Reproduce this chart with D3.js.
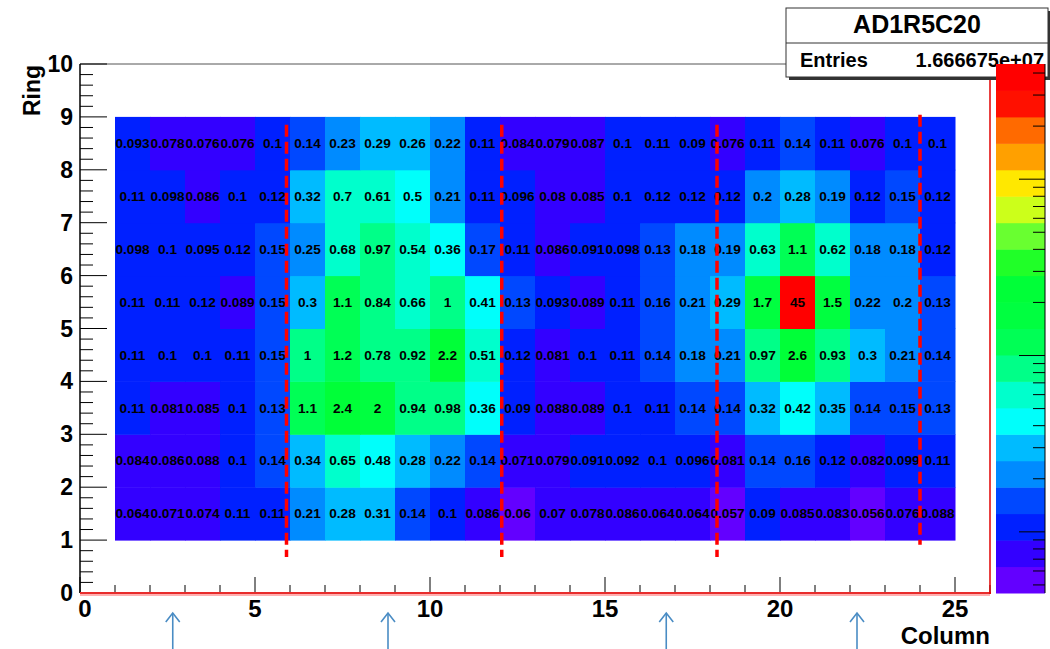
<!DOCTYPE html>
<html><head><meta charset="utf-8">
<script src="https://cdn.jsdelivr.net/npm/d3@7"></script>
<style>
body{margin:0;background:#fff}
svg{display:block}
text{font-family:"Liberation Sans",Arial,Helvetica,sans-serif;font-weight:bold}
</style>
</head><body>
<svg id="c" width="1050" height="649"></svg>
<script>
// ---------------- data ----------------
const columns = [1,2,3,4,5,6,7,8,9,10,11,12,13,14,15,16,17,18,19,20,21,22,23,24];
const rings = [1,2,3,4,5,6,7,8];
const ring1 = [0.064,0.071,0.074,0.11,0.11,0.21,0.28,0.31,0.14,0.1,0.086,0.06,0.07,0.078,0.086,0.064,0.064,0.057,0.09,0.085,0.083,0.056,0.076,0.088];
const ring2 = [0.084,0.086,0.088,0.1,0.14,0.34,0.65,0.48,0.28,0.22,0.14,0.071,0.079,0.091,0.092,0.1,0.096,0.081,0.14,0.16,0.12,0.082,0.099,0.11];
const ring3 = [0.11,0.081,0.085,0.1,0.13,1.1,2.4,2,0.94,0.98,0.36,0.09,0.088,0.089,0.1,0.11,0.14,0.14,0.32,0.42,0.35,0.14,0.15,0.13];
const ring4 = [0.11,0.1,0.1,0.11,0.15,1,1.2,0.78,0.92,2.2,0.51,0.12,0.081,0.1,0.11,0.14,0.18,0.21,0.97,2.6,0.93,0.3,0.21,0.14];
const ring5 = [0.11,0.11,0.12,0.089,0.15,0.3,1.1,0.84,0.66,1,0.41,0.13,0.093,0.089,0.11,0.16,0.21,0.29,1.7,45,1.5,0.22,0.2,0.13];
const ring6 = [0.098,0.1,0.095,0.12,0.15,0.25,0.68,0.97,0.54,0.36,0.17,0.11,0.086,0.091,0.098,0.13,0.18,0.19,0.63,1.1,0.62,0.18,0.18,0.12];
const ring7 = [0.11,0.098,0.086,0.1,0.12,0.32,0.7,0.61,0.5,0.21,0.11,0.096,0.08,0.085,0.1,0.12,0.12,0.12,0.2,0.28,0.19,0.12,0.15,0.12];
const ring8 = [0.093,0.078,0.076,0.076,0.1,0.14,0.23,0.29,0.26,0.22,0.11,0.084,0.079,0.087,0.1,0.11,0.09,0.076,0.11,0.14,0.11,0.076,0.1,0.1];
const ringValues = [ring1,ring2,ring3,ring4,ring5,ring6,ring7,ring8];

const xTickLabels = [0,5,10,15,20,25];
const yTickLabels = [0,1,2,3,4,5,6,7,8,9,10];
const zTickMajor = [0.1,1,10];
const zTickMinor = [0.05,0.06,0.07,0.08,0.09,0.2,0.3,0.4,0.5,0.6,0.7,0.8,0.9,2,3,4,5,6,7,8,9,20,30,40];
const zRange = [0.045,45];
const palette = ["#6300ff","#3300ff","#0020ff","#0048ff","#008bff","#00bbff","#00fffb","#00ffcc","#00ff88","#00ff55",
                 "#00ff40","#00ff38","#20ff28","#69ff30","#ccff1a","#ffe800","#ffa000","#ff6a00","#ff1000","#ff0000"];

const cutColumns = [5.9,12.05,18.2,24.0];
const cutTop = [8.85,8.85,8.85,9.04];
const cutBottom = [0.68,0.68,0.68,0.91];
const arrowColumns = [2.65,8.8,16.75,22.2];

const histTitle = "AD1R5C20";
const entriesLabel = "Entries";
const entriesValue = "1.666675e+07";

// ---------------- scales ----------------
const svg = d3.select("#c");
const x = d3.scaleLinear().domain([0,26]).range([80,990]);
const y = d3.scaleLinear().domain([0,10]).range([593,64]);
const nLev = palette.length;
const zl = d3.scaleLog().domain(zRange).range([0,nLev]);
const colorOf = v => palette[Math.max(0,Math.min(nLev-1,Math.floor(zl(v))))];
const zy = d3.scaleLog().domain(zRange).range([593,64]);

// ---------------- cells ----------------
const cells = [];
rings.forEach((r,ri)=>columns.forEach((c,ci)=>cells.push({c,r,v:ringValues[ri][ci]})));

const gCells = svg.append("g");
gCells.selectAll("rect").data(cells).join("rect")
  .attr("x",d=>x(d.c)).attr("y",d=>y(d.r+1))
  .attr("width",d=>x(d.c+1)-x(d.c)+0.5).attr("height",d=>y(d.r)-y(d.r+1)+0.5)
  .attr("fill",d=>colorOf(d.v));
gCells.selectAll("text").data(cells).join("text")
  .attr("transform",d=>`translate(${x(d.c+0.5)},${y(d.r+0.5)}) scale(1.05,1)`)
  .attr("text-anchor","middle").attr("dy","0.36em")
  .attr("font-size",13).attr("fill","#000")
  .text(d=>String(d.v));

// ---------------- frame ----------------
svg.append("line").attr("x1",80).attr("x2",990).attr("y1",64).attr("y2",64).attr("stroke","#555").attr("stroke-width",1);

// x axis ticks
const xMinor = d3.range(0,27,1);
svg.append("g").selectAll("line").data(xMinor).join("line")
  .attr("x1",d=>x(d)).attr("x2",d=>x(d))
  .attr("y1",593).attr("y2",d=>593-(d%5===0?16:8))
  .attr("stroke","#000").attr("stroke-width",1);
svg.append("g").selectAll("text").data(xTickLabels).join("text")
  .attr("x",d=>x(d)+(d===0?5:0)).attr("y",617)
  .attr("text-anchor","middle").attr("font-size",24).text(d=>d);

// y axis ticks
const yMinor = d3.range(0,50.5,1).map(d=>d/5);
svg.append("g").selectAll("line").data(yMinor).join("line")
  .attr("x1",80).attr("x2",d=>80+(Math.abs(d-Math.round(d))<1e-6?27:13))
  .attr("y1",d=>y(d)).attr("y2",d=>y(d))
  .attr("stroke","#000").attr("stroke-width",1);
svg.append("line").attr("x1",80).attr("x2",80).attr("y1",64).attr("y2",593).attr("stroke","#000").attr("stroke-width",1.5);
svg.append("g").selectAll("text").data(yTickLabels).join("text")
  .attr("x",73).attr("y",d=>y(d)+8)
  .attr("text-anchor","end").attr("font-size",23).text(d=>d);

// bottom & right frame lines (red)
svg.append("line").attr("x1",80).attr("x2",990).attr("y1",594).attr("y2",594).attr("stroke","#ffb0b0").attr("stroke-width",4);
svg.append("line").attr("x1",80).attr("x2",991).attr("y1",593).attr("y2",593).attr("stroke","#e00000").attr("stroke-width",1.5);
svg.append("line").attr("x1",990).attr("x2",990).attr("y1",64).attr("y2",594).attr("stroke","#e00000").attr("stroke-width",1.5);

// axis titles
svg.append("text").attr("transform",`translate(40,65) rotate(-90)`).attr("text-anchor","end").attr("font-size",23).text("Ring");
svg.append("text").attr("x",990).attr("y",644).attr("text-anchor","end").attr("font-size",24).text("Column");

// ---------------- dashed cut lines ----------------
svg.append("g").selectAll("line").data(cutColumns).join("line")
  .attr("x1",d=>x(d)).attr("x2",d=>x(d))
  .attr("y1",(d,i)=>y(cutTop[i])).attr("y2",(d,i)=>y(cutBottom[i]))
  .attr("stroke","#ff0000").attr("stroke-width",3.5).attr("stroke-dasharray","12,5");

// ---------------- arrows ----------------
const gArr = svg.append("g").attr("stroke","#4a8cc4").attr("stroke-width",1.6).attr("fill","none");
arrowColumns.forEach(c=>{
  const ax = x(c);
  gArr.append("line").attr("x1",ax).attr("x2",ax).attr("y1",613).attr("y2",649);
  gArr.append("path").attr("d",`M${ax-7},${622} L${ax},${613} L${ax+7},${622}`);
});

// ---------------- stats box ----------------
const sb = svg.append("g");
sb.append("rect").attr("x",789).attr("y",11).attr("width",262).attr("height",69).attr("fill","#333");
sb.append("rect").attr("x",786).attr("y",8).attr("width",262).attr("height",69).attr("fill","#fff").attr("stroke","#333").attr("stroke-width",1);
sb.append("line").attr("x1",786).attr("x2",1048).attr("y1",43).attr("y2",43).attr("stroke","#333");
sb.append("text").attr("x",917).attr("y",33).attr("text-anchor","middle").attr("font-size",25).text(histTitle);
sb.append("text").attr("x",800).attr("y",67).attr("font-size",20).text(entriesLabel);
sb.append("text").attr("x",1044).attr("y",67).attr("text-anchor","end").attr("font-size",20).text(entriesValue);

// ---------------- colour bar ----------------
const bands = d3.range(nLev).map(i=>({i, lo:zl.invert(i), hi:zl.invert(i+1)}));
svg.append("g").selectAll("rect").data(bands).join("rect")
  .attr("x",996).attr("width",49)
  .attr("y",d=>zy(d.hi)).attr("height",d=>zy(d.lo)-zy(d.hi)+0.5)
  .attr("fill",d=>palette[d.i]);
svg.append("line").attr("x1",1045).attr("x2",1045).attr("y1",64).attr("y2",593).attr("stroke","#000").attr("stroke-width",1);
svg.append("g").selectAll("line").data(zTickMajor.map(v=>({v,l:26})).concat(zTickMinor.map(v=>({v,l:12})))).join("line")
  .attr("x1",1045).attr("x2",d=>1045-d.l).attr("y1",d=>zy(d.v)).attr("y2",d=>zy(d.v))
  .attr("stroke","#000").attr("stroke-width",1);
</script>
</body></html>
